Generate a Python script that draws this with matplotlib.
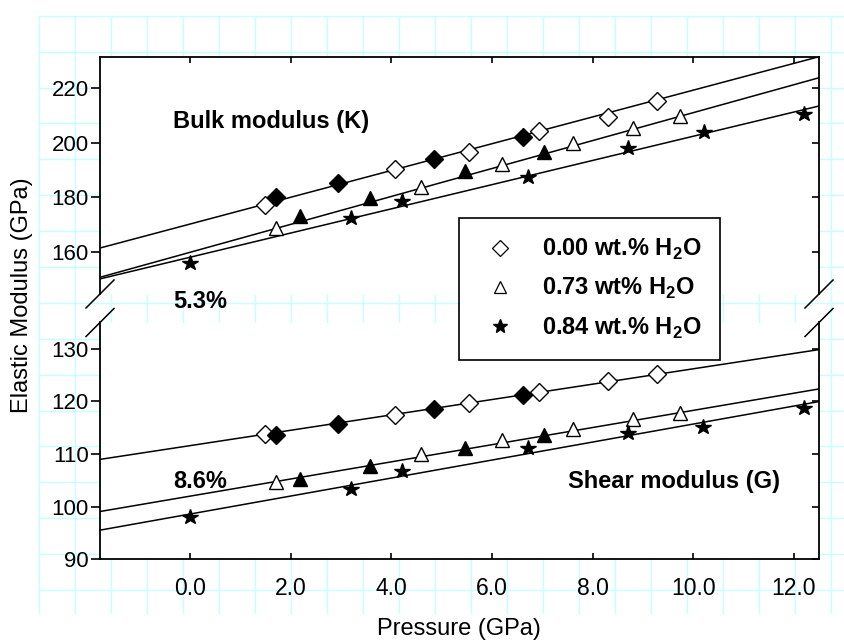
import numpy as np
import matplotlib
matplotlib.use('Agg')
import matplotlib.pyplot as plt
from matplotlib.lines import Line2D
from matplotlib.patches import Rectangle

plt.rcParams['font.family'] = ['Liberation Sans', 'DejaVu Sans']
plt.rcParams['mathtext.fontset'] = 'custom'
plt.rcParams['mathtext.rm'] = 'Liberation Sans'
plt.rcParams['mathtext.bf'] = 'Liberation Sans:bold'

# ---- bulk modulus K (GPa) vs pressure (GPa) ----
k_p_dry = [1.48, 4.08, 5.55, 6.94, 8.30, 9.28]
k_dry = [177.2, 190.3, 196.7, 204.2, 209.3, 215.3]
k_p_dry2 = [1.71, 2.95, 4.84, 6.61]          # filled diamonds
k_dry2 = [180.0, 185.1, 193.9, 202.1]
k_p_073 = [1.70, 4.59, 6.20, 7.61, 8.81, 9.74]
k_073 = [168.7, 183.7, 192.2, 199.7, 205.4, 209.7]
k_p_073b = [2.19, 3.58, 5.47, 7.04]          # filled triangles
k_073b = [173.2, 179.7, 189.6, 196.7]
k_p_084 = [0.0, 3.19, 4.21, 6.71, 8.70, 10.21, 12.21]
k_084 = [156.2, 172.6, 178.8, 187.3, 197.9, 203.7, 210.4]

# ---- shear modulus G (GPa) vs pressure (GPa) ----
g_p_dry = [1.48, 4.08, 5.55, 6.94, 8.30, 9.28]
g_dry = [113.8, 117.4, 119.7, 121.7, 123.8, 125.2]
g_p_dry2 = [1.71, 2.95, 4.84, 6.61]
g_dry2 = [113.6, 115.7, 118.5, 121.2]
g_p_073 = [1.70, 4.59, 6.20, 7.61, 8.81, 9.74]
g_073 = [104.6, 110.0, 112.7, 114.8, 116.6, 117.8]
g_p_073b = [2.19, 3.58, 5.47, 7.04]
g_073b = [105.3, 107.8, 111.1, 113.6]
g_p_084 = [0.0, 3.19, 4.21, 6.71, 8.70, 10.19, 12.21]
g_084 = [98.0, 103.3, 106.7, 111.2, 114.0, 115.1, 118.7]

# linear fits: modulus at P=0 and pressure derivative (dry, 0.73, 0.84)
k0 = [170.3, 160.0, 158.2]
dk = [4.88, 5.09, 4.41]
g0 = [111.6, 102.0, 98.6]
dg = [1.46, 1.63, 1.71]

xticks = [0, 2, 4, 6, 8, 10, 12]
k_ticks = [160, 180, 200, 220]
g_ticks = [90, 100, 110, 120, 130]
xlim = (-1.79, 12.5)
labels = ['0.00 wt.% H$_\\mathbf{2}$O', '0.73 wt% H$_\\mathbf{2}$O',
          '0.84 wt.% H$_\\mathbf{2}$O']

W, H = 844, 641
fig = plt.figure(figsize=(W / 100, H / 100), dpi=100)

# page grid in the background (pixel coords)
bg = fig.add_axes([0, 0, 1, 1], zorder=-5)
bg.set_xlim(0, W)
bg.set_ylim(H, 0)
bg.axis('off')
gc = '#c8ffff'
for k in range(23):
    gx = 39 + 36 * k
    bg.plot([gx, gx], [15.7, 613], color=gc, lw=1)
for k in range(17):
    gy = 15.7 + 35.9 * k
    bg.plot([39, W], [gy, gy], color=gc, lw=1)
bg.add_patch(Rectangle((100, 56.7), 719, 502.6, facecolor='white', edgecolor='none'))

L, R = 100 / W, 819 / W
ax1 = fig.add_axes([L, 1 - 294 / H, R - L, (294 - 56.7) / H])
ax2 = fig.add_axes([L, 1 - 559.3 / H, R - L, (559.3 - 322.5) / H])

mk = dict(mec='black', mew=1.0, ls='none', zorder=3)
def draw(ax, pd, d, pd2, d2, p73, v73, p73b, v73b, p84, v84, a0, da):
    xx = np.array(xlim)
    for i in range(3):
        ax.plot(xx, a0[i] + da[i] * xx, color='black', lw=1.1, zorder=2)
    ax.plot(pd, d, 'D', ms=9, mfc='white', **mk)
    ax.plot(pd2, d2, 'D', ms=9, mfc='black', **mk)
    ax.plot(p73, v73, '^', ms=9.5, mfc='white', **mk)
    ax.plot(p73b, v73b, '^', ms=9.5, mfc='black', **mk)
    ax.plot(p84, v84, '*', ms=11.5, mfc='black', **mk)
    ax.set_xlim(*xlim)
    ax.set_xticks(xticks)

draw(ax1, k_p_dry, k_dry, k_p_dry2, k_dry2, k_p_073, k_073, k_p_073b, k_073b,
     k_p_084, k_084, k0, dk)
draw(ax2, g_p_dry, g_dry, g_p_dry2, g_dry2, g_p_073, g_073, g_p_073b, g_073b,
     g_p_084, g_084, g0, dg)

ax1.set_ylim(144.8, 231.3)
ax2.set_ylim(90, 135)
ax1.set_yticks(k_ticks)
ax2.set_yticks(g_ticks)
ax1.spines['bottom'].set_visible(False)
ax2.spines['top'].set_visible(False)
ax2.set_xticklabels(['%.1f' % v for v in xticks])

for ax in (ax1, ax2):
    for s in ax.spines.values():
        s.set_linewidth(1.3)
    ax.tick_params(axis='y', left=True, right=False, direction='out',
                   length=6.5, width=1.2, pad=1.5, labelsize=16)
ax1.tick_params(axis='x', bottom=False, top=True, labelbottom=False,
                direction='in', length=4.5, width=1.2)
ax2.tick_params(axis='x', bottom=True, top=False, direction='in',
                length=4.5, width=1.2, pad=13, labelsize=16.5)

# inward ticks on the right side
for ax, yt in ((ax1, k_ticks), (ax2, g_ticks)):
    tw = ax.twinx()
    tw.set_ylim(ax.get_ylim())
    tw.set_yticks(yt)
    tw.tick_params(axis='y', direction='in', length=4.8, width=1.2, labelright=False)
    for s in tw.spines.values():
        s.set_visible(False)

# axis break marks
dx = 14 / 719
for ax, yb, hh in ((ax1, 0, 237.3), (ax2, 1, 236.8)):
    dy = 14 / hh
    for xb in (0, 1):
        ax.plot([xb - dx, xb + dx], [yb - dy, yb + dy], transform=ax.transAxes,
                color='black', lw=1.1, clip_on=False)

tk = dict(fontsize=17, fontweight='bold')
ax1.text(-0.34, 205.2, 'Bulk modulus (K)', **tk)
ax1.text(-0.34, 139.6, '5.3%', **tk)
ax2.text(-0.34, 103.5, '8.6%', **tk)
ax2.text(7.52, 103.5, 'Shear modulus (G)', **tk)

fig.text(22 / W, 1 - 295 / H, 'Elastic Modulus (GPa)', rotation=90,
         ha='center', va='center', fontsize=17)
fig.text(459 / W, 1 - 629 / H, 'Pressure (GPa)', ha='center', va='center',
         fontsize=17)

handles = [Line2D([], [], marker='D', ms=8, mfc='white', mec='black', mew=0.9, ls='none'),
           Line2D([], [], marker='^', ms=8.5, mfc='white', mec='black', mew=0.9, ls='none'),
           Line2D([], [], marker='*', ms=10, mfc='black', mec='black', ls='none')]
leg = fig.legend(handles, labels, loc='upper left',
                 bbox_to_anchor=(459 / W, 1 - 218 / H), bbox_transform=fig.transFigure,
                 borderaxespad=0, fancybox=False, edgecolor='black', framealpha=1,
                 prop=dict(size=17, weight='bold'), borderpad=0.8,
                 handlelength=1.9, handletextpad=0.8, labelspacing=0.6)
leg.get_frame().set_linewidth(1.2)

fig.savefig('out.png', dpi=100)
